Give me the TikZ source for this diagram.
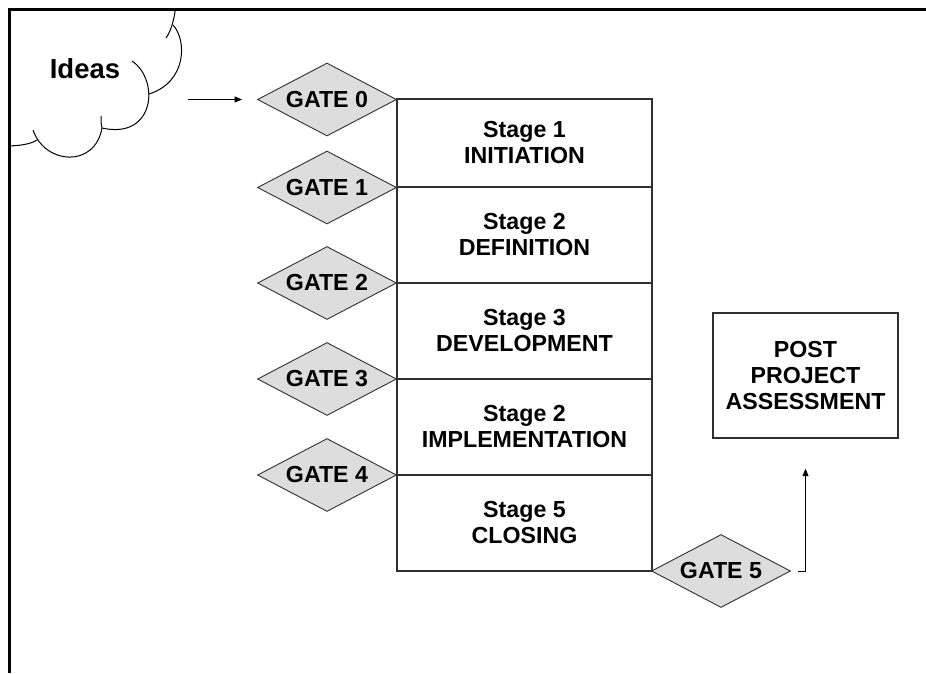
\documentclass[tikz,border=0pt]{standalone}
\usepackage{fontspec}
\setmainfont{Liberation Sans}
\usetikzlibrary{shapes.geometric,arrows.meta}
\definecolor{gatefill}{HTML}{DDDDDD}
\definecolor{edge}{HTML}{303030}
\begin{document}
\begin{tikzpicture}[x=1pt,y=-1pt,
  every node/.style={font=\bfseries\fontsize{23.2}{26}\selectfont, align=center, inner sep=0pt},
  stagebox/.style={draw=edge, line width=1.3pt, rectangle, minimum width=255pt},
  gate/.style={diamond, shape aspect=1.9, draw=edge, line width=0.9pt, fill=gatefill,
               minimum width=139pt, minimum height=73pt},
  postbox/.style={draw=edge, line width=1.3pt, rectangle, minimum width=185pt, minimum height=125pt},
  arr/.style={line width=1pt, -{Triangle[length=7.5pt,width=6pt]}},
  cloudline/.style={line width=1pt}]
\useasboundingbox (0,0) rectangle (926,673);
\fill[white] (0,0) rectangle (926,673);

% cloud of ideas, cut off by the frame
\begin{scope}
  \clip (11,11) rectangle (926,673);
  \draw[cloudline] (176,4) .. controls (175,15) and (172,30) .. (166,38);
  \draw[cloudline] (173,25) .. controls (187,40) and (187,82) .. (149,94);
  \draw[cloudline] (132,61) .. controls (160,80) and (155,140) .. (102,128);
  \draw[cloudline] (102,128) .. controls (101,124) and (101,120) .. (101,116);
  \draw[cloudline] (33,130) .. controls (45,165) and (95,168) .. (102,128);
  \draw[cloudline] (5,146) .. controls (20,146) and (31,144) .. (37,140);
\end{scope}
\node[font=\bfseries\fontsize{27.5}{30}\selectfont] (ideas) at (85,69) {Ideas};

% frame
\draw[line width=3pt, line join=miter] (9.5,673) -- (9.5,9.5) -- (926,9.5);

% stages
\node[stagebox, minimum height=88pt] (s1) at (524.5,143) {Stage 1\\INITIATION};
\node[stagebox, minimum height=96pt] (s2) at (524.5,235) {Stage 2\\DEFINITION};
\node[stagebox, minimum height=96pt] (s3) at (524.5,331) {Stage 3\\DEVELOPMENT};
\node[stagebox, minimum height=96pt] (s4) at (524.5,427) {Stage 2\\IMPLEMENTATION};
\node[stagebox, minimum height=96pt] (s5) at (524.5,523) {Stage 5\\CLOSING};

% gates
\node[gate] (g0) at (327,99.5) {GATE 0};
\node[gate] (g1) at (327,187.5) {GATE 1};
\node[gate] (g2) at (327,283) {GATE 2};
\node[gate] (g3) at (327,379) {GATE 3};
\node[gate] (g4) at (327,475) {GATE 4};
\node[gate] (g5) at (721,571) {GATE 5};

% post project assessment
\node[postbox] (post) at (805.5,375.5) {POST\\PROJECT\\ASSESSMENT};

% connectors
\coordinate (ideasout) at (188,99.5);
\draw[arr, shorten >=15pt] (ideasout) -- (g0.west);
\draw[arr, shorten >=30pt] ([xshift=7pt]g5.east) -| (post.south);
\end{tikzpicture}
\end{document}
